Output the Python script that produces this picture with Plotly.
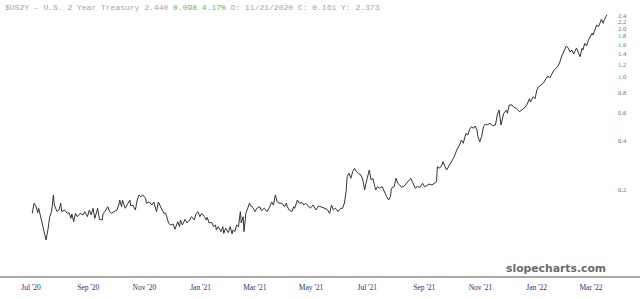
import plotly.graph_objects as go

# ---- data ----
dates = [
    "2020-07-12","2020-07-14","2020-07-16","2020-07-18","2020-07-19","2020-07-21","2020-07-22","2020-07-25",
    "2020-07-27","2020-07-29","2020-07-31","2020-08-02","2020-08-04","2020-08-05","2020-08-08","2020-08-10",
    "2020-08-12","2020-08-13","2020-08-16","2020-08-19","2020-08-21","2020-08-23","2020-08-24","2020-08-26",
    "2020-08-28","2020-08-30","2020-09-02","2020-09-05","2020-09-07","2020-09-10","2020-09-12","2020-09-14",
    "2020-09-16","2020-09-18","2020-09-21","2020-09-23","2020-09-26","2020-09-27","2020-09-29","2020-10-02",
    "2020-10-04","2020-10-06","2020-10-09","2020-10-12","2020-10-14","2020-10-15","2020-10-17","2020-10-18",
    "2020-10-21","2020-10-23","2020-10-26","2020-10-27","2020-10-29","2020-11-01","2020-11-03","2020-11-05",
    "2020-11-07","2020-11-09","2020-11-12","2020-11-13","2020-11-16","2020-11-19","2020-11-21","2020-11-24",
    "2020-11-26","2020-11-30","2020-12-02","2020-12-04","2020-12-07","2020-12-09","2020-12-12","2020-12-14",
    "2020-12-17","2020-12-19","2020-12-20","2020-12-22","2020-12-25","2020-12-27","2020-12-30","2021-01-01",
    "2021-01-04","2021-01-06","2021-01-08","2021-01-10","2021-01-12","2021-01-15","2021-01-17","2021-01-18",
    "2021-01-20","2021-01-23","2021-01-25","2021-01-27","2021-01-28","2021-01-30","2021-02-02","2021-02-04",
    "2021-02-05","2021-02-07","2021-02-10","2021-02-12","2021-02-14","2021-02-15","2021-02-17","2021-02-19",
    "2021-02-21","2021-02-23","2021-02-24","2021-02-26","2021-02-27","2021-03-01","2021-03-03","2021-03-05",
    "2021-03-06","2021-03-08","2021-03-11","2021-03-13","2021-03-16","2021-03-18","2021-03-21","2021-03-24",
    "2021-03-27","2021-03-29","2021-03-31","2021-04-02","2021-04-04","2021-04-06","2021-04-09","2021-04-12",
    "2021-04-14","2021-04-15","2021-04-17","2021-04-20","2021-04-22","2021-04-23","2021-04-26","2021-04-28",
    "2021-05-01","2021-05-03","2021-05-05","2021-05-08","2021-05-10","2021-05-13","2021-05-16","2021-05-19",
    "2021-05-21","2021-05-24","2021-05-28","2021-05-31","2021-06-02","2021-06-04","2021-06-06","2021-06-08",
    "2021-06-09","2021-06-12","2021-06-14","2021-06-16","2021-06-18","2021-06-19","2021-06-21","2021-06-23",
    "2021-06-25","2021-06-27","2021-06-29","2021-07-01","2021-07-04","2021-07-06","2021-07-08","2021-07-09",
    "2021-07-11","2021-07-13","2021-07-15","2021-07-17","2021-07-19","2021-07-20","2021-07-22","2021-07-24",
    "2021-07-27","2021-07-29","2021-07-31","2021-08-03","2021-08-05","2021-08-06","2021-08-09","2021-08-11",
    "2021-08-13","2021-08-15","2021-08-17","2021-08-20","2021-08-22","2021-08-24","2021-08-27","2021-08-29",
    "2021-09-01","2021-09-03","2021-09-06","2021-09-09","2021-09-11","2021-09-13","2021-09-16","2021-09-19",
    "2021-09-21","2021-09-24","2021-09-25","2021-09-27","2021-09-30","2021-10-01","2021-10-03","2021-10-05",
    "2021-10-08","2021-10-11","2021-10-13","2021-10-16","2021-10-19","2021-10-21","2021-10-23","2021-10-26",
    "2021-10-28","2021-10-30","2021-11-01","2021-11-03","2021-11-05","2021-11-07","2021-11-08","2021-11-10",
    "2021-11-12","2021-11-14","2021-11-16","2021-11-18","2021-11-21","2021-11-24","2021-11-27","2021-11-29",
    "2021-12-01","2021-12-03","2021-12-05","2021-12-06","2021-12-09","2021-12-10","2021-12-12","2021-12-15",
    "2021-12-17","2021-12-20","2021-12-23","2021-12-26","2021-12-28","2021-12-31","2022-01-03","2022-01-04",
    "2022-01-07","2022-01-09","2022-01-11","2022-01-13","2022-01-15","2022-01-18","2022-01-20","2022-01-23",
    "2022-01-25","2022-01-29","2022-02-01","2022-02-03","2022-02-05","2022-02-07","2022-02-10","2022-02-12",
    "2022-02-14","2022-02-16","2022-02-18","2022-02-20","2022-02-23","2022-02-25","2022-02-27","2022-03-01",
    "2022-03-02","2022-03-04","2022-03-06","2022-03-08","2022-03-10","2022-03-12","2022-03-13","2022-03-15",
    "2022-03-17","2022-03-19","2022-03-21","2022-03-22","2022-03-24","2022-03-25","2022-03-27","2022-03-28",
]

yields = [
    0.1418,0.1640,0.1576,0.1432,0.1525,0.1352,0.1289,0.1117,
    0.0968,0.1117,0.1352,0.1453,0.1845,0.1598,0.1453,0.1488,
    0.1640,0.1453,0.1488,0.1418,0.1432,0.1320,0.1405,0.1258,
    0.1418,0.1352,0.1418,0.1385,0.1453,0.1352,0.1488,0.1385,
    0.1525,0.1320,0.1525,0.1302,0.1289,0.1418,0.1453,0.1560,
    0.1453,0.1418,0.1453,0.1488,0.1598,0.1717,0.1560,0.1717,
    0.1525,0.1598,0.1717,0.1576,0.1598,0.1488,0.1717,0.1845,
    0.1800,0.1845,0.1760,0.1640,0.1669,0.1598,0.1669,0.1453,
    0.1669,0.1488,0.1418,0.1418,0.1235,0.1200,0.1217,0.1128,
    0.1258,0.1172,0.1289,0.1200,0.1302,0.1235,0.1289,0.1352,
    0.1289,0.1418,0.1453,0.1352,0.1418,0.1352,0.1289,0.1340,
    0.1235,0.1245,0.1172,0.1200,0.1117,0.1172,0.1091,0.1172,
    0.1064,0.1145,0.1075,0.1172,0.1055,0.1117,0.1091,0.1200,
    0.1172,0.1453,0.1235,0.1352,0.1091,0.1418,0.1525,0.1640,
    0.1576,0.1560,0.1453,0.1525,0.1560,0.1474,0.1525,0.1453,
    0.1560,0.1669,0.1598,0.1845,0.1669,0.1640,0.1640,0.1560,
    0.1640,0.1560,0.1488,0.1453,0.1560,0.1525,0.1717,0.1640,
    0.1655,0.1598,0.1640,0.1560,0.1525,0.1598,0.1488,0.1576,
    0.1560,0.1546,0.1505,0.1418,0.1598,0.1488,0.1525,0.1488,
    0.1453,0.1525,0.1525,0.1640,0.1982,0.2398,0.2517,0.2343,
    0.2575,0.2704,0.2575,0.2517,0.2457,0.2287,0.1982,0.2129,
    0.2343,0.2639,0.2287,0.2343,0.2078,0.1982,0.2078,0.2030,
    0.2078,0.1934,0.1845,0.1717,0.1800,0.2030,0.2078,0.2343,
    0.2181,0.2129,0.2060,0.2099,0.2181,0.2232,0.2343,0.2232,
    0.2030,0.2078,0.2060,0.2181,0.2078,0.2099,0.2160,0.2129,
    0.2160,0.2232,0.2767,0.2704,0.2835,0.2973,0.2795,0.2639,
    0.2835,0.3046,0.3165,0.3516,0.3777,0.4058,0.3870,0.4466,
    0.4359,0.4730,0.4908,0.4797,0.4958,0.4683,0.4254,0.3960,
    0.4254,0.4908,0.5103,0.5031,0.5154,0.4981,0.5031,0.5806,
    0.6238,0.5031,0.5666,0.5949,0.6238,0.5949,0.6701,0.6701,
    0.6484,0.6392,0.6088,0.6238,0.6392,0.6701,0.7333,0.6987,
    0.7548,0.7333,0.8309,0.8710,0.8926,0.9150,0.9590,1.0155,
    0.9871,1.0910,1.1389,1.1722,1.2422,1.3529,1.4742,1.5613,
    1.5170,1.4325,1.4742,1.3921,1.5170,1.4325,1.3394,1.5103,
    1.4742,1.6226,1.5613,1.7015,1.7838,1.8731,1.8279,1.9637,
    2.1096,2.0588,2.2119,2.2890,2.1613,2.2664,2.3759,2.4400,
]

x_tick_dates = ["2020-07-01","2020-09-01","2020-11-01","2021-01-01","2021-03-01","2021-05-01",
                "2021-07-01","2021-09-01","2021-11-01","2022-01-01","2022-03-01"]
x_tick_text = ["Jul '20","Sep '20","Nov '20","Jan '21","Mar '21","May '21",
               "Jul '21","Sep '21","Nov '21","Jan '22","Mar '22"]
y_tick_vals = [0.2, 0.4, 0.6, 0.8, 1.0, 1.2, 1.4, 1.6, 1.8, 2.0, 2.2, 2.4]
y_tick_text = ["0.2","0.4","0.6","0.8","1.0","1.2","1.4","1.6","1.8","2.0","2.2","2.4"]

title_main = "$US2Y - U.S. 2 Year Treasury 2.440 "
title_change = "0.098 4.17%"
title_rest = " D: 11/21/2020 C: 0.161 Y: 2.373"

fig = go.Figure()
fig.add_trace(go.Scatter(
    x=dates, y=yields, mode="lines",
    line=dict(color="#333333", width=1),
    hoverinfo="skip", showlegend=False,
))

W, H = 640, 299
ML, MR, MT, MB = 0, 28, 0, 22
plot_w = W - ML - MR

fig.update_layout(
    width=W, height=H,
    margin=dict(l=ML, r=MR, t=MT, b=MB, pad=0),
    paper_bgcolor="white", plot_bgcolor="white",
    showlegend=False,
    xaxis=dict(
        type="date",
        range=["2020-06-07", "2022-04-02 14:00"],
        tickmode="array", tickvals=x_tick_dates, ticktext=x_tick_text,
        ticks="", showgrid=False, zeroline=False, showline=False,
        tickfont=dict(family="Liberation Serif", size=7.5, color="#30307a"),
        ticklabelshift=9, ticklabelstandoff=4,
        fixedrange=True,
    ),
    yaxis=dict(
        type="log", side="right",
        range=[-1.2446, 0.4798],
        tickmode="array", tickvals=y_tick_vals, ticktext=y_tick_text,
        ticks="", showgrid=False, zeroline=False, showline=False,
        tickfont=dict(family="Liberation Serif", size=6.5, color="#6a6a9c"),
        ticklabelstandoff=5,
        fixedrange=True,
    ),
    shapes=[dict(
        type="line", xref="paper", yref="paper",
        x0=0, x1=W / plot_w, y0=0, y1=0,
        line=dict(color="#a9a9a9", width=2),
    )],
    annotations=[
        dict(
            xref="paper", yref="paper", x=3 / plot_w, y=1, xanchor="left", yanchor="top",
            yshift=-1, showarrow=False,
            text=(title_main + '<span style="color:#66b866">' + title_change + "</span>" + title_rest),
            font=dict(family="Liberation Mono", size=8, color="#a3a3a3"),
        ),
        dict(
            xref="paper", yref="paper", x=608 / plot_w, y=(277 - 268) / 277,
            xanchor="right", yanchor="middle", showarrow=False,
            text="<b>slopecharts.com</b>",
            font=dict(family="DejaVu Sans", size=10.8, color="#6a6a6a"),
        ),
    ],
)

fig.write_html("out.html", config={"displayModeBar": False})
